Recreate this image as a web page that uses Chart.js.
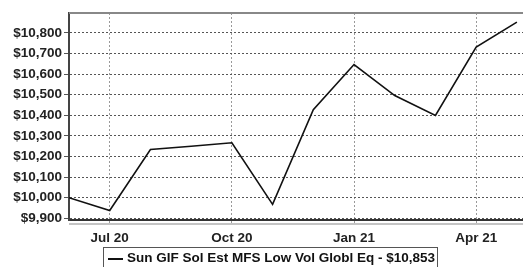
<!DOCTYPE html>
<html>
<head>
<meta charset="utf-8">
<script src="https://cdn.jsdelivr.net/npm/chart.js@4/dist/chart.umd.min.js"></script>
<style>
  html, body { margin:0; padding:0; background:#fff; }
  #wrap { position:relative; width:523px; height:267px; overflow:hidden; }
  #c { position:absolute; left:0; top:0; }
  #legend { position:absolute; left:103px; top:247px; width:335px; height:30px; border:1px solid #555; box-sizing:border-box;
            font: bold 13.5px "Liberation Sans", Arial, sans-serif; color:#111; white-space:nowrap; }
  #legend .sw { position:absolute; left:4px; top:10px; width:15px; height:2px; background:#111; }
  #legend .tx { position:absolute; left:23px; top:2px; }
</style>
</head>
<body>
<div id="wrap">
  <canvas id="c" width="523" height="267"></canvas>
  <div id="legend"><span class="sw"></span><span class="tx" id="legtext"></span></div>
</div>
<script>
const months = ["Jun 20","Jul 20","Aug 20","Sep 20","Oct 20","Nov 20","Dec 20","Jan 21","Feb 21","Mar 21","Apr 21","May 21"];
const values = [10000, 9938, 10234, 10250, 10267, 9968, 10428, 10647, 10496, 10400, 10732, 10853];
const xTickIndex = [1, 4, 7, 10];
const xTickLabels = ["Jul 20", "Oct 20", "Jan 21", "Apr 21"];
const yTicks = [9900, 10000, 10100, 10200, 10300, 10400, 10500, 10600, 10700, 10800];
const seriesName = "Sun GIF Sol Est MFS Low Vol Globl Eq - $10,853";

document.getElementById('legtext').textContent = seriesName;

const FONT = '"Liberation Sans", Arial, sans-serif';

const framePlugin = {
  id: 'frame',
  afterDraw(chart) {
    const {ctx, chartArea: a} = chart;
    ctx.save();
    ctx.setLineDash([]);
    ctx.strokeStyle = '#888';
    ctx.lineWidth = 2;
    ctx.beginPath(); ctx.moveTo(a.left, a.top); ctx.lineTo(a.right, a.top); ctx.stroke();
    ctx.strokeStyle = '#c4c4c4';
    ctx.lineWidth = 2;
    ctx.beginPath(); ctx.moveTo(a.left, a.bottom + 4); ctx.lineTo(a.right, a.bottom + 4); ctx.stroke();
    ctx.restore();
  }
};

new Chart(document.getElementById('c'), {
  type: 'line',
  data: {
    datasets: [{
      label: seriesName,
      data: values.map((v, i) => ({x: i, y: v})),
      borderColor: '#111',
      borderWidth: 1.6,
      pointRadius: 0,
      tension: 0,
      fill: false
    }]
  },
  options: {
    responsive: false,
    animation: false,
    devicePixelRatio: 1,
    layout: { padding: { top: 13, right: 0, left: 0, bottom: 0 } },
    plugins: { legend: { display: false }, tooltip: { enabled: false } },
    scales: {
      x: {
        type: 'linear',
        min: 0,
        max: 11.15,
        afterBuildTicks(scale) { scale.ticks = xTickIndex.map(v => ({value: v})); },
        afterFit(scale) { scale.height = 47; },
        ticks: {
          callback(v) { const k = xTickIndex.indexOf(v); return k >= 0 ? xTickLabels[k] : ''; },
          font: { family: FONT, size: 13.5, weight: 'bold' },
          color: '#222',
          padding: 6,
          maxRotation: 0
        },
        grid: {
          color: '#999',
          lineWidth: 1,
          drawTicks: true,
          tickLength: 4,
          tickColor: '#999',
          tickBorderDash: [2, 2]
        },
        border: { display: true, color: '#333', width: 2, dash: [2, 2] }
      },
      y: {
        min: 9892,
        max: 10897,
        afterBuildTicks(scale) { scale.ticks = yTicks.map(v => ({value: v})); },
        afterFit(scale) { scale.width = 69; },
        ticks: {
          callback(v) { return '$' + v.toLocaleString('en-US'); },
          font: { family: FONT, size: 13.5, weight: 'bold' },
          color: '#222',
          padding: 2
        },
        grid: {
          color: '#555',
          lineWidth: 1,
          drawTicks: true,
          tickLength: 5,
          tickColor: '#555',
          tickBorderDash: []
        },
        border: { display: true, color: '#444', width: 2, dash: [2, 2] }
      }
    }
  },
  plugins: [framePlugin]
});
</script>
</body>
</html>
